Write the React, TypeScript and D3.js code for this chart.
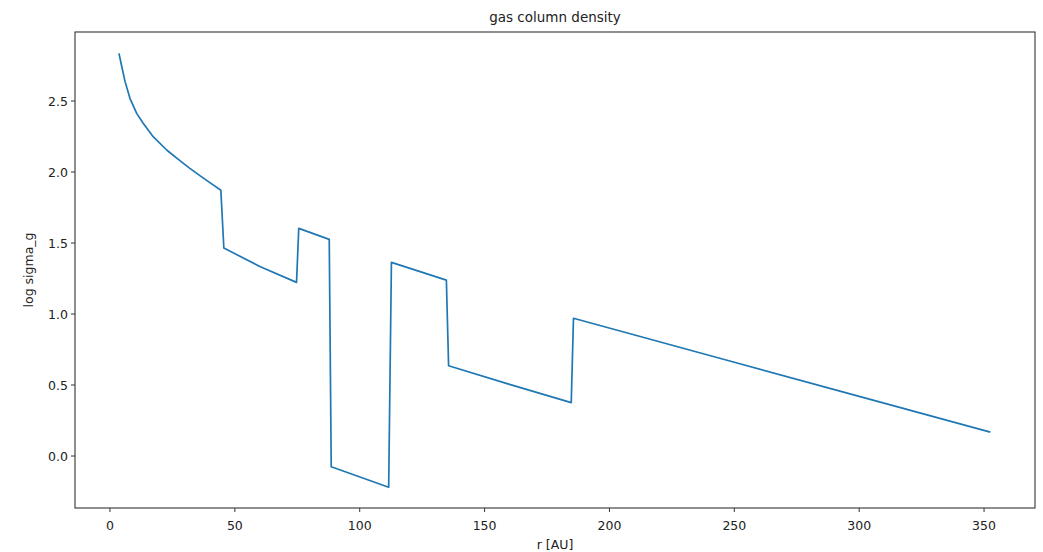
import React from "react";
import * as d3 from "d3";

const title = "gas column density";
const xLabel = "r [AU]";
const yLabel = "log sigma_g";

// radius values (AU)
const rValues = [3.6, 4.7, 6.0, 8.0, 10.7, 13.3, 17.3, 22.7, 28, 32, 36, 40, 44.4, 45.6, 60, 74.7, 75.6, 87.8, 88.6, 111.6, 112.7, 134.7, 135.6, 160, 184.7, 185.6, 250, 300, 352.5];
// log sigma_g values
const sigmaValues = [2.835, 2.745, 2.64, 2.519, 2.413, 2.343, 2.249, 2.155, 2.08, 2.026, 1.975, 1.925, 1.872, 1.465, 1.335, 1.223, 1.603, 1.526, -0.075, -0.22, 1.364, 1.239, 0.636, 0.505, 0.376, 0.97, 0.66, 0.42, 0.168];

const xTicks = [0, 50, 100, 150, 200, 250, 300, 350];
const yTicks = [0.0, 0.5, 1.0, 1.5, 2.0, 2.5];

const W = 1043;
const H = 552;
const left = 75;
const right = 1035;
const top = 32;
const bottom = 508;

export default function App() {
  const x = d3.scaleLinear().domain([-14, 370.4]).range([left, right]);
  const y = d3.scaleLinear().domain([-0.366, 2.986]).range([bottom, top]);
  const pts: [number, number][] = rValues.map((r, i) => [r, sigmaValues[i]]);
  const line = d3
    .line<[number, number]>()
    .x((d) => x(d[0]))
    .y((d) => y(d[1]));
  const font = "'DejaVu Sans', sans-serif";
  return (
    <div style={{ position: "fixed", left: 0, top: 0 }}>
      <svg width={W} height={H} style={{ display: "block", background: "#fff" }}>
        <text x={(left + right) / 2} y={22} textAnchor="middle" fontFamily={font} fontSize={13.5} fill="#222">
          {title}
        </text>
        <path d={line(pts) || ""} fill="none" stroke="#1f77b4" strokeWidth={1.7} strokeLinejoin="round" />
        <rect x={left} y={top} width={right - left} height={bottom - top} fill="none" stroke="#333" strokeWidth={1.1} />
        {xTicks.map((t) => (
          <g key={"x" + t}>
            <line x1={x(t)} x2={x(t)} y1={bottom} y2={bottom + 4} stroke="#333" />
            <text x={x(t)} y={530} textAnchor="middle" fontFamily={font} fontSize={12.5} fill="#222">
              {t}
            </text>
          </g>
        ))}
        {yTicks.map((t) => (
          <g key={"y" + t}>
            <line x1={left - 4} x2={left} y1={y(t)} y2={y(t)} stroke="#333" />
            <text x={left - 7} y={y(t) + 4.5} textAnchor="end" fontFamily={font} fontSize={12.5} fill="#222">
              {t.toFixed(1)}
            </text>
          </g>
        ))}
        <text x={(left + right) / 2} y={549} textAnchor="middle" fontFamily={font} fontSize={12.5} fill="#222">
          {xLabel}
        </text>
        <text
          transform={`translate(33,${(top + bottom) / 2}) rotate(-90)`}
          textAnchor="middle"
          fontFamily={font}
          fontSize={12.5}
          fill="#222"
        >
          {yLabel}
        </text>
      </svg>
    </div>
  );
}
